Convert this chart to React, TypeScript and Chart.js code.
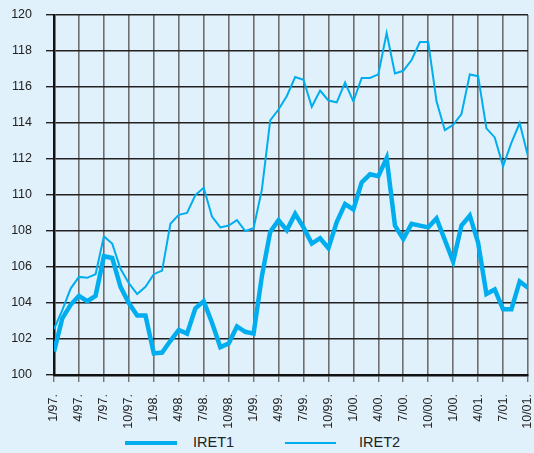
import React, { useEffect, useRef } from "react";
import { Chart, registerables } from "chart.js";

Chart.register(...registerables);

const tickLabels = [
  "1/97.", "4/97.", "7/97.", "10/97.",
  "1/98.", "4/98.", "7/98.", "10/98.",
  "1/99.", "4/99.", "7/99.", "10/99.",
  "1/00.", "4/00.", "7/00.", "10/00.",
  "1/00.", "4/01.", "7/01.", "10/01.",
];

const iret1 = [
  101.3, 103.15, 103.9, 104.4, 104.1, 104.4, 106.6, 106.5, 104.9, 104.0, 103.3, 103.3,
  101.2, 101.25, 101.9, 102.5, 102.3, 103.7, 104.1, 102.9, 101.55, 101.75, 102.7, 102.4,
  102.3, 105.5, 107.95, 108.6, 108.05, 108.95, 108.2, 107.3, 107.6, 107.05, 108.5, 109.5,
  109.2, 110.7, 111.15, 111.05, 112.05, 108.3, 107.55, 108.4, 108.3, 108.2, 108.7, 107.5,
  106.3, 108.3, 108.85, 107.35, 104.5, 104.75, 103.65, 103.65, 105.2, 104.85,
];

const iret2 = [
  102.55, 103.6, 104.8, 105.45, 105.4, 105.6, 107.7, 107.3, 105.9, 105.1, 104.5, 104.9,
  105.6, 105.8, 108.4, 108.9, 109.0, 110.0, 110.4, 108.8, 108.2, 108.3, 108.6, 108.0,
  108.15, 110.3, 114.15, 114.75, 115.5, 116.55, 116.4, 114.9, 115.8, 115.25, 115.15, 116.25,
  115.2, 116.5, 116.5, 116.7, 119.0, 116.75, 116.9, 117.5, 118.5, 118.5, 115.2, 113.6,
  113.9, 114.5, 116.7, 116.6, 113.7, 113.2, 111.6, 112.9, 114.0, 112.15,
];

const seriesNames = ["IRET1", "IRET2"];

const LINE_COLOR = "#00aeef";
const BG = "#e1f1fb";
const FONT = "'Liberation Sans', Arial, Helvetica, sans-serif";

export default function App() {
  const canvasRef = useRef<HTMLCanvasElement | null>(null);

  useEffect(() => {
    const canvas = canvasRef.current;
    if (!canvas) return;
    const toPoints = (arr: number[]) => arr.map((v, i) => ({ x: i, y: v }));
    const chart = new Chart(canvas, {
      type: "line",
      data: {
        datasets: [
          {
            label: seriesNames[0],
            data: toPoints(iret1),
            borderColor: LINE_COLOR,
            backgroundColor: LINE_COLOR,
            borderWidth: 4.5,
            pointRadius: 0,
            tension: 0,
            borderJoinStyle: "miter",
          },
          {
            label: seriesNames[1],
            data: toPoints(iret2),
            borderColor: LINE_COLOR,
            backgroundColor: LINE_COLOR,
            borderWidth: 2,
            pointRadius: 0,
            tension: 0,
          },
        ],
      },
      options: {
        responsive: false,
        animation: false,
        devicePixelRatio: 1,
        layout: { padding: { top: 15, right: 6, left: 0, bottom: 0 } },
        plugins: {
          legend: { display: false },
          tooltip: { enabled: false },
        },
        scales: {
          x: {
            type: "linear",
            min: 0,
            max: (tickLabels.length - 1) * 3,
            afterFit: (scale: any) => {
              scale.height = 55;
              scale.paddingLeft = 0;
              scale.paddingRight = 0;
            },
            afterBuildTicks: (scale: any) => {
              scale.ticks = tickLabels.map((_, i) => ({ value: i * 3 }));
            },
            ticks: {
              autoSkip: false,
              minRotation: 90,
              maxRotation: 90,
              padding: 12,
              crossAlign: "center",
              color: "#222",
              font: { family: FONT, size: 12.5 },
              callback: (value: any) => tickLabels[Math.round(Number(value) / 3)] ?? "",
            },
            grid: {
              color: "#6e6e6e",
              lineWidth: 1.6,
              tickLength: 7,
              tickColor: "#444",
              tickWidth: 1,
            },
            border: { display: true, color: "#111", width: 2.5 },
          },
          y: {
            min: 100,
            max: 120,
            afterFit: (scale: any) => {
              scale.width = 54;
              scale.paddingTop = 0;
              scale.paddingBottom = 0;
            },
            ticks: {
              stepSize: 2,
              padding: 14,
              color: "#222",
              font: { family: FONT, size: 12.5 },
            },
            grid: {
              color: "#222",
              lineWidth: 1.4,
              tickLength: 8,
            },
            border: { display: true, color: "#111", width: 2.5 },
          },
        },
      },
    });
    return () => chart.destroy();
  }, []);

  const legendText: React.CSSProperties = {
    position: "absolute",
    top: 433,
    fontFamily: FONT,
    fontSize: 14.5,
    color: "#222",
    lineHeight: "18px",
  };

  return (
    <div
      style={{
        position: "fixed",
        left: 0,
        top: 0,
        width: 534,
        height: 453,
        background: BG,
        overflow: "hidden",
      }}
    >
      <canvas ref={canvasRef} width={534} height={430} style={{ position: "absolute", left: 0, top: 0 }} />
      <div style={{ position: "absolute", left: 125, top: 440.5, width: 52, height: 4.5, background: LINE_COLOR }} />
      <div style={{ ...legendText, left: 193 }}>{seriesNames[0]}</div>
      <div style={{ position: "absolute", left: 285, top: 441.5, width: 51, height: 2, background: LINE_COLOR }} />
      <div style={{ ...legendText, left: 359 }}>{seriesNames[1]}</div>
    </div>
  );
}
